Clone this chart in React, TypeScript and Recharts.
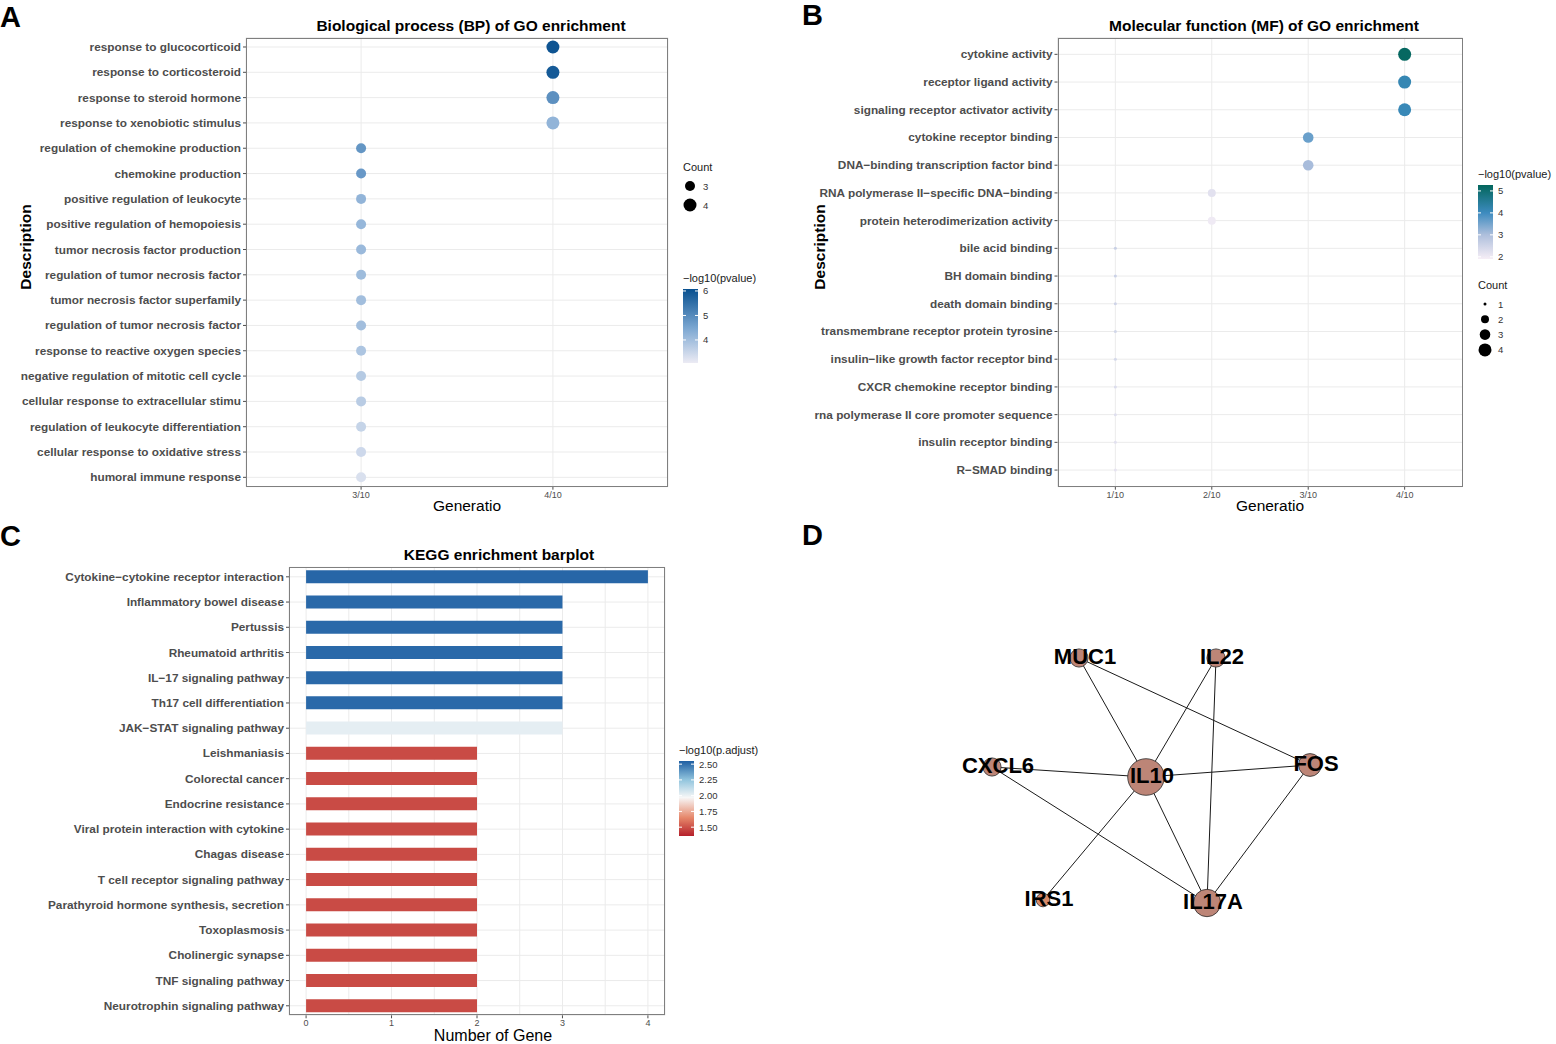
import React from "react";
import {
  Bar,
  BarChart,
  CartesianGrid,
  Cell,
  Scatter,
  ScatterChart,
  XAxis,
  YAxis,
} from "recharts";

const FONT = '"Liberation Sans", Arial, Helvetica, sans-serif';

// ---- A: GO biological process
const bpTerms = [
  "response to glucocorticoid",
  "response to corticosteroid",
  "response to steroid hormone",
  "response to xenobiotic stimulus",
  "regulation of chemokine production",
  "chemokine production",
  "positive regulation of leukocyte",
  "positive regulation of hemopoiesis",
  "tumor necrosis factor production",
  "regulation of tumor necrosis factor",
  "tumor necrosis factor superfamily",
  "regulation of tumor necrosis factor",
  "response to reactive oxygen species",
  "negative regulation of mitotic cell cycle",
  "cellular response to extracellular stimu",
  "regulation of leukocyte differentiation",
  "cellular response to oxidative stress",
  "humoral immune response",
];
const bpGeneRatio = [0.4, 0.4, 0.4, 0.4, 0.3, 0.3, 0.3, 0.3, 0.3, 0.3, 0.3, 0.3, 0.3, 0.3, 0.3, 0.3, 0.3, 0.3];
const bpCount = [4, 4, 4, 4, 3, 3, 3, 3, 3, 3, 3, 3, 3, 3, 3, 3, 3, 3];
const bpLogP = [6.0, 5.9, 4.9, 4.2, 4.8, 4.75, 4.2, 4.15, 4.1, 4.05, 4.0, 4.0, 3.85, 3.75, 3.7, 3.55, 3.45, 3.3];
const bpCountLevels = [3, 4];
const bpColorTicks = [4, 5, 6];
const bpXTicks = [0.3, 0.4];

// ---- B: GO molecular function
const mfTerms = [
  "cytokine activity",
  "receptor ligand activity",
  "signaling receptor activator activity",
  "cytokine receptor binding",
  "DNA\u2212binding transcription factor bind",
  "RNA polymerase II\u2212specific DNA\u2212binding",
  "protein heterodimerization activity",
  "bile acid binding",
  "BH domain binding",
  "death domain binding",
  "transmembrane receptor protein tyrosine",
  "insulin\u2212like growth factor receptor bind",
  "CXCR chemokine receptor binding",
  "rna polymerase II core promoter sequence",
  "insulin receptor binding",
  "R\u2212SMAD binding",
];
const mfGeneRatio = [0.4, 0.4, 0.4, 0.3, 0.3, 0.2, 0.2, 0.1, 0.1, 0.1, 0.1, 0.1, 0.1, 0.1, 0.1, 0.1];
const mfCount = [4, 4, 4, 3, 3, 2, 2, 1, 1, 1, 1, 1, 1, 1, 1, 1];
const mfLogP = [5.2, 4.15, 4.1, 3.6, 3.05, 2.2, 2.0, 2.6, 2.55, 2.5, 2.45, 2.4, 2.3, 2.25, 2.2, 2.15];
const mfCountLevels = [1, 2, 3, 4];
const mfColorTicks = [2, 3, 4, 5];
const mfXTicks = [0.1, 0.2, 0.3, 0.4];

// ---- C: KEGG barplot
const keggTerms = [
  "Cytokine\u2212cytokine receptor interaction",
  "Inflammatory bowel disease",
  "Pertussis",
  "Rheumatoid arthritis",
  "IL\u221217 signaling pathway",
  "Th17 cell differentiation",
  "JAK\u2212STAT signaling pathway",
  "Leishmaniasis",
  "Colorectal cancer",
  "Endocrine resistance",
  "Viral protein interaction with cytokine",
  "Chagas disease",
  "T cell receptor signaling pathway",
  "Parathyroid hormone synthesis, secretion",
  "Toxoplasmosis",
  "Cholinergic synapse",
  "TNF signaling pathway",
  "Neurotrophin signaling pathway",
];
const keggCount = [4, 3, 3, 3, 3, 3, 3, 2, 2, 2, 2, 2, 2, 2, 2, 2, 2, 2];
const keggLogPadj = [2.53, 2.52, 2.52, 2.52, 2.52, 2.52, 2.02, 1.48, 1.48, 1.48, 1.48, 1.48, 1.48, 1.48, 1.48, 1.48, 1.48, 1.48];
const keggColorTicks = [1.5, 1.75, 2.0, 2.25, 2.5];
const keggXTicks = [0, 0.5, 1, 1.5, 2, 2.5, 3, 3.5, 4];

// ---- D: PPI network (layout coordinates)
const netGenes = ["MUC1", "IL22", "CXCL6", "IL10", "FOS", "IRS1", "IL17A"];
const netX = [179, 316, 92, 246, 410, 143, 307];
const netY = [58, 58, 167, 177, 165, 300, 303];
const netEdges = [
  ["MUC1", "IL10"],
  ["MUC1", "FOS"],
  ["IL22", "IL10"],
  ["IL22", "IL17A"],
  ["CXCL6", "IL10"],
  ["CXCL6", "IL17A"],
  ["IL10", "FOS"],
  ["IL10", "IRS1"],
  ["IL10", "IL17A"],
  ["FOS", "IL17A"],
];

type Stop = [number, string];
const bpStops: Stop[] = [[3.06, "#ecebf4"], [4.5, "#7aa6d1"], [6.08, "#08508f"]];
const mfStops: Stop[] = [[1.9, "#f6eef6"], [3, "#aebfdc"], [4, "#3d8bbf"], [5.27, "#03665c"]];
const keggStops: Stop[] = [[1.36, "#b5202b"], [1.65, "#e6876a"], [1.97, "#f7f7f7"], [2.25, "#92c5de"], [2.55, "#1f5fa3"]];

const hex = (c: string) => [1, 3, 5].map((i) => parseInt(c.slice(i, i + 2), 16));
function colorAt(stops: Stop[], v: number) {
  if (v <= stops[0][0]) return stops[0][1];
  for (let i = 1; i < stops.length; i++) {
    if (v <= stops[i][0]) {
      const [a, ca] = stops[i - 1];
      const [b, cb] = stops[i];
      const t = (v - a) / (b - a);
      const A = hex(ca);
      const B = hex(cb);
      return "#" + A.map((x, k) => Math.round(x + (B[k] - x) * t).toString(16).padStart(2, "0")).join("");
    }
  }
  return stops[stops.length - 1][1];
}

const bpRadius = (c: number) => (c >= 4 ? 6.5 : 5);
const mfRadius = (c: number) => [0, 1.5, 4, 5.3, 6.5][c];
const ratioLabel = (v: number) => `${Math.round(v * 10)}/10`;

const xTick = { fontFamily: FONT, fontSize: 9, fill: "#4d4d4d" };

// plain <text> so recharts does not wrap long labels
const makeYTick = (fmt: (v: any) => string) => (p: any) => (
  <text
    x={p.x}
    y={p.y}
    textAnchor="end"
    dominantBaseline="central"
    fontFamily={FONT}
    fontSize={11.8}
    fontWeight={700}
    fill="#4d4d4d"
  >
    {fmt(p.payload.value)}
  </text>
);

function DotPanel(p: {
  left: number;
  top: number;
  width: number;
  height: number;
  plotLeft: number;
  plotRight: number;
  plotTop: number;
  plotBottom: number;
  xDomain: [number, number];
  xTicks: number[];
  yDomain: [number, number];
  terms: string[];
  ratio: number[];
  count: number[];
  logp: number[];
  stops: Stop[];
  radius: (c: number) => number;
}) {
  const data = p.terms.map((t, i) => ({ idx: i, term: t, ratio: p.ratio[i], count: p.count[i], logp: p.logp[i] }));
  return (
    <div style={{ position: "absolute", left: p.left, top: p.top }}>
      <ScatterChart
        width={p.width}
        height={p.height}
        margin={{ top: p.plotTop, right: p.width - p.plotRight, bottom: p.height - p.plotBottom - 20, left: 0 }}
      >
        <CartesianGrid stroke="#ebebeb" />
        <XAxis
          type="number"
          dataKey="ratio"
          domain={p.xDomain}
          ticks={p.xTicks}
          allowDataOverflow
          height={20}
          tickSize={3}
          axisLine={false}
          tickLine={{ stroke: "#4d4d4d" }}
          tick={xTick}
          tickFormatter={ratioLabel}
        />
        <YAxis
          type="number"
          dataKey="idx"
          domain={p.yDomain}
          reversed
          allowDataOverflow
          ticks={data.map((d) => d.idx)}
          interval={0}
          width={p.plotLeft}
          tickSize={3}
          axisLine={false}
          tickLine={{ stroke: "#4d4d4d" }}
          tick={makeYTick((i: number) => p.terms[i])}
        />
        <Scatter
          data={data}
          isAnimationActive={false}
          shape={(s: any) => (
            <circle cx={s.cx} cy={s.cy} r={p.radius(s.payload.count)} fill={colorAt(p.stops, s.payload.logp)} />
          )}
        />
      </ScatterChart>
      <div
        style={{
          position: "absolute",
          left: p.plotLeft,
          top: p.plotTop,
          width: p.plotRight - p.plotLeft,
          height: p.plotBottom - p.plotTop,
          border: "1px solid #7f7f7f",
          boxSizing: "border-box",
          pointerEvents: "none",
        }}
      />
    </div>
  );
}

function T(props: { x: number; y: number; s: number; w?: number; c?: string; a?: string; rot?: boolean; children: React.ReactNode }) {
  return (
    <text
      x={props.x}
      y={props.y}
      fontSize={props.s}
      fontWeight={props.w || 400}
      fill={props.c || "#000"}
      textAnchor={(props.a as any) || "middle"}
      dominantBaseline="central"
      fontFamily={FONT}
      transform={props.rot ? `rotate(-90 ${props.x} ${props.y})` : undefined}
    >
      {props.children}
    </text>
  );
}

function ColorBar(p: {
  id: string;
  x: number;
  y: number;
  w: number;
  h: number;
  min: number;
  max: number;
  stops: Stop[];
  ticks: number[];
  title: string;
  fmt: (v: number) => string;
}) {
  const pos = (v: number) => p.y + ((p.max - v) / (p.max - p.min)) * p.h;
  return (
    <g>
      <defs>
        <linearGradient id={p.id} x1="0" y1="0" x2="0" y2="1">
          {p.stops
            .slice()
            .reverse()
            .map(([v, c]) => (
              <stop key={v} offset={Math.min(1, Math.max(0, (p.max - v) / (p.max - p.min)))} stopColor={c} />
            ))}
        </linearGradient>
      </defs>
      <T x={p.x} y={p.y - 11} s={11} a="start" c="#1a1a1a">
        {p.title}
      </T>
      <rect x={p.x} y={p.y} width={p.w} height={p.h} fill={`url(#${p.id})`} />
      {p.ticks.map((t) => (
        <g key={t}>
          <line x1={p.x} x2={p.x + 3} y1={pos(t)} y2={pos(t)} stroke="#fff" strokeWidth={1} />
          <line x1={p.x + p.w - 3} x2={p.x + p.w} y1={pos(t)} y2={pos(t)} stroke="#fff" strokeWidth={1} />
          <T x={p.x + p.w + 5} y={pos(t)} s={9.5} a="start" c="#333">
            {p.fmt(t)}
          </T>
        </g>
      ))}
    </g>
  );
}

function SizeLegend(p: { x: number; y: number; gap: number; levels: number[]; radius: (c: number) => number }) {
  return (
    <g>
      <T x={p.x} y={p.y} s={11} a="start" c="#1a1a1a">
        Count
      </T>
      {p.levels.map((l, i) => {
        const cy = p.y + 19 + i * p.gap;
        return (
          <g key={l}>
            <circle cx={p.x + 7} cy={cy} r={p.radius(l)} fill="#000" />
            <T x={p.x + 20} y={cy} s={9.5} a="start" c="#333">
              {String(l)}
            </T>
          </g>
        );
      })}
    </g>
  );
}

const keggData = keggTerms.map((t, i) => ({ term: t, count: keggCount[i], padj: keggLogPadj[i] }));

const KeggXTick = (p: any) => {
  const v = p.payload.value;
  if (!Number.isInteger(v)) return <g />;
  return (
    <g>
      <line x1={p.x} x2={p.x} y1={p.y - 5} y2={p.y - 2} stroke="#4d4d4d" />
      <text x={p.x} y={p.y - 1} dy="0.71em" textAnchor="middle" fontFamily={FONT} fontSize={9} fill="#4d4d4d">
        {v}
      </text>
    </g>
  );
};

const nodeData = netGenes.map((g, i) => ({
  gene: g,
  x: netX[i],
  y: netY[i],
  degree: netEdges.filter((e) => e.includes(g)).length,
}));
const nodeOf = (g: string) => nodeData[netGenes.indexOf(g)];

const NodeShape = (p: any) => {
  const d = p.payload;
  const r = 4.5 + 2.3 * d.degree;
  return (
    <g>
      <circle cx={p.cx} cy={p.cy} r={r} fill={d.degree === 1 ? "#d88a68" : "#bd8577"} stroke="#2b2b2b" strokeWidth={0.8} />
      <text x={p.cx + 6} y={p.cy + 6} textAnchor="middle" fontSize={22} fontWeight={700} fontFamily={FONT} fill="#000">
        {d.gene}
      </text>
    </g>
  );
};

export default function App() {
  return (
    <div style={{ position: "absolute", left: 0, top: 0, width: 1556, height: 1044, background: "#fff", overflow: "hidden" }}>
      <DotPanel
        left={0}
        top={0}
        width={780}
        height={520}
        plotLeft={246}
        plotRight={668}
        plotTop={37.7}
        plotBottom={486.7}
        xDomain={[0.24, 0.46]}
        xTicks={bpXTicks}
        yDomain={[-0.367, 17.37]}
        terms={bpTerms}
        ratio={bpGeneRatio}
        count={bpCount}
        logp={bpLogP}
        stops={bpStops}
        radius={bpRadius}
      />
      <DotPanel
        left={780}
        top={0}
        width={776}
        height={520}
        plotLeft={277.5}
        plotRight={682.5}
        plotTop={37.7}
        plotBottom={486.7}
        xDomain={[0.04, 0.46]}
        xTicks={mfXTicks}
        yDomain={[-0.6, 15.6]}
        terms={mfTerms}
        ratio={mfGeneRatio}
        count={mfCount}
        logp={mfLogP}
        stops={mfStops}
        radius={mfRadius}
      />

      <div style={{ position: "absolute", left: 0, top: 520 }}>
        <BarChart
          layout="vertical"
          width={780}
          height={524}
          data={keggData}
          margin={{ top: 47.3, right: 115, bottom: 8.7, left: 0 }}
          barCategoryGap={0}
        >
          <CartesianGrid stroke="#ebebeb" />
          <XAxis
            type="number"
            dataKey="count"
            domain={[-0.2, 4.2]}
            ticks={keggXTicks}
            allowDataOverflow
            height={20}
            tickSize={3}
            tickMargin={2}
            axisLine={false}
            tickLine={false}
            tick={KeggXTick}
          />
          <YAxis
            type="category"
            dataKey="term"
            width={289}
            interval={0}
            tickSize={3}
            axisLine={false}
            tickLine={{ stroke: "#4d4d4d" }}
            tick={makeYTick((v: string) => v)}
            padding={{ top: -3.1, bottom: -3.1 }}
          />
          <Bar dataKey="count" barSize={13} isAnimationActive={false}>
            {keggData.map((d, i) => (
              <Cell key={i} fill={colorAt(keggStops, d.padj)} />
            ))}
          </Bar>
        </BarChart>
        <div
          style={{
            position: "absolute",
            left: 289,
            top: 47.3,
            width: 376,
            height: 448,
            border: "1px solid #7f7f7f",
            boxSizing: "border-box",
            pointerEvents: "none",
          }}
        />
      </div>

      <div style={{ position: "absolute", left: 900, top: 600 }}>
        <ScatterChart width={500} height={360} margin={{ top: 0, right: 0, bottom: 0, left: 0 }}>
          <XAxis type="number" dataKey="x" domain={[0, 500]} hide />
          <YAxis type="number" dataKey="y" domain={[0, 360]} reversed hide />
          {netEdges.map(([a, b], i) => (
            <Scatter
              key={i}
              data={[nodeOf(a), nodeOf(b)]}
              line={{ stroke: "#1a1a1a", strokeWidth: 1 }}
              shape={() => <g />}
              isAnimationActive={false}
            />
          ))}
          <Scatter data={nodeData} shape={NodeShape} isAnimationActive={false} />
        </ScatterChart>
      </div>

      <svg width={1556} height={1044} style={{ position: "absolute", left: 0, top: 0, pointerEvents: "none" }}>
        <T x={0} y={17} s={29} w={700} a="start">A</T>
        <T x={802} y={15} s={29} w={700} a="start">B</T>
        <T x={0} y={536} s={29} w={700} a="start">C</T>
        <T x={802} y={535} s={29} w={700} a="start">D</T>

        <T x={471} y={25} s={15.5} w={700}>Biological process (BP) of GO enrichment</T>
        <T x={1264} y={25} s={15.5} w={700}>Molecular function (MF) of GO enrichment</T>
        <T x={499} y={554} s={15.5} w={700}>KEGG enrichment barplot</T>

        <T x={25} y={247} s={15.5} w={700} rot>Description</T>
        <T x={819} y={247} s={15.5} w={700} rot>Description</T>
        <T x={467} y={505} s={15.5}>Generatio</T>
        <T x={1270} y={505} s={15.5}>Generatio</T>
        <T x={493} y={1035} s={16}>Number of Gene</T>

        <SizeLegend x={683} y={167} gap={19} levels={bpCountLevels} radius={bpRadius} />
        <ColorBar id="bpGrad" x={683} y={289} w={15} h={74} min={3.06} max={6.08} stops={bpStops} ticks={bpColorTicks} title={"\u2212log10(pvalue)"} fmt={(v) => String(v)} />

        <ColorBar id="mfGrad" x={1478} y={185} w={15} h={74} min={1.9} max={5.27} stops={mfStops} ticks={mfColorTicks} title={"\u2212log10(pvalue)"} fmt={(v) => String(v)} />
        <SizeLegend x={1478} y={285} gap={15.3} levels={mfCountLevels} radius={mfRadius} />

        <ColorBar id="keggGrad" x={679} y={761} w={15} h={75} min={1.36} max={2.55} stops={keggStops} ticks={keggColorTicks} title={"\u2212log10(p.adjust)"} fmt={(v) => v.toFixed(2)} />
      </svg>
    </div>
  );
}
